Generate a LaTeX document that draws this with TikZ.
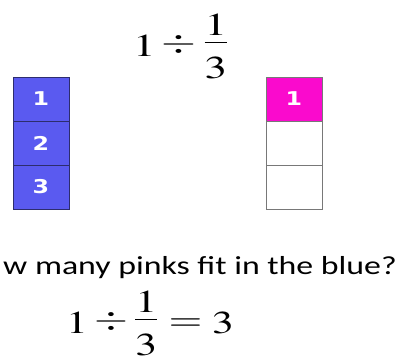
\documentclass[tikz,border=0pt]{standalone}
\usepackage{graphicx}
\usepackage{mathptmx}
\usepackage[no-math]{fontspec}
\newfontfamily\qfont{Carlito}
\newfontfamily\numfont{DejaVu Sans}
\definecolor{bluefill}{RGB}{90,90,240}
\definecolor{blueedge}{RGB}{45,45,110}
\definecolor{pinkfill}{RGB}{250,10,205}
\definecolor{grayedge}{RGB}{120,120,120}
\newcommand{\wide}[2]{\scalebox{#1}[1]{#2}}
\newcommand{\axisfix}{\fontdimen22\textfont2=14.5pt\relax}
\newcommand{\hdiv}{\mathbin{\raisebox{4.5pt}{$\displaystyle\div$}}}
\newcommand{\heq}{\mathrel{\raisebox{3.5pt}{$\displaystyle=$}}}
\tikzset{
  cell/.style={minimum width=56pt, minimum height=44pt, inner sep=0pt, outer sep=0pt,
    font=\numfont\bfseries\fontsize{19}{21}\selectfont, text=white},
  bluecell/.style={cell, fill=bluefill, draw=blueedge, line width=0.8pt},
  pinkcell/.style={cell, fill=pinkfill, draw=grayedge, line width=0.8pt},
  emptycell/.style={cell, fill=white, draw=grayedge, line width=0.8pt},
  eq/.style={inner sep=0pt, font=\fontsize{32}{38}\selectfont},
}
\begin{document}
\begin{tikzpicture}[x=1pt,y=1pt]
\useasboundingbox (0,0) rectangle (408,363);
\fill[white] (0,0) rectangle (408,363);
% top formula
\node[eq, anchor=base west] (topeq) at (133,306) {\wide{1.4}{$\axisfix\displaystyle 1\hdiv\frac{1}{3}$}};
% blue column
\node[bluecell] (b1) at (41,264) {\wide{1.25}{1}};
\node[bluecell] (b2) at (41,220) {\wide{1.25}{2}};
\node[bluecell] (b3) at (41,176) {\wide{1.25}{3}};
% right column
\node[pinkcell] (p1) at (294,264) {\wide{1.25}{1}};
\node[emptycell] (p2) at (294,220) {};
\node[emptycell] (p3) at (294,176) {};
% question
\node[inner sep=0pt, anchor=base east, font=\qfont\fontsize{26}{30}\selectfont] (q) at (397,88) {\wide{1.3}{w many pinks fit in the blue?}};
% bottom formula
\node[eq, anchor=base west] (boteq) at (66,29) {\wide{1.36}{$\axisfix\displaystyle 1\hdiv\frac{1}{3}\heq 3$}};
\end{tikzpicture}
\end{document}
